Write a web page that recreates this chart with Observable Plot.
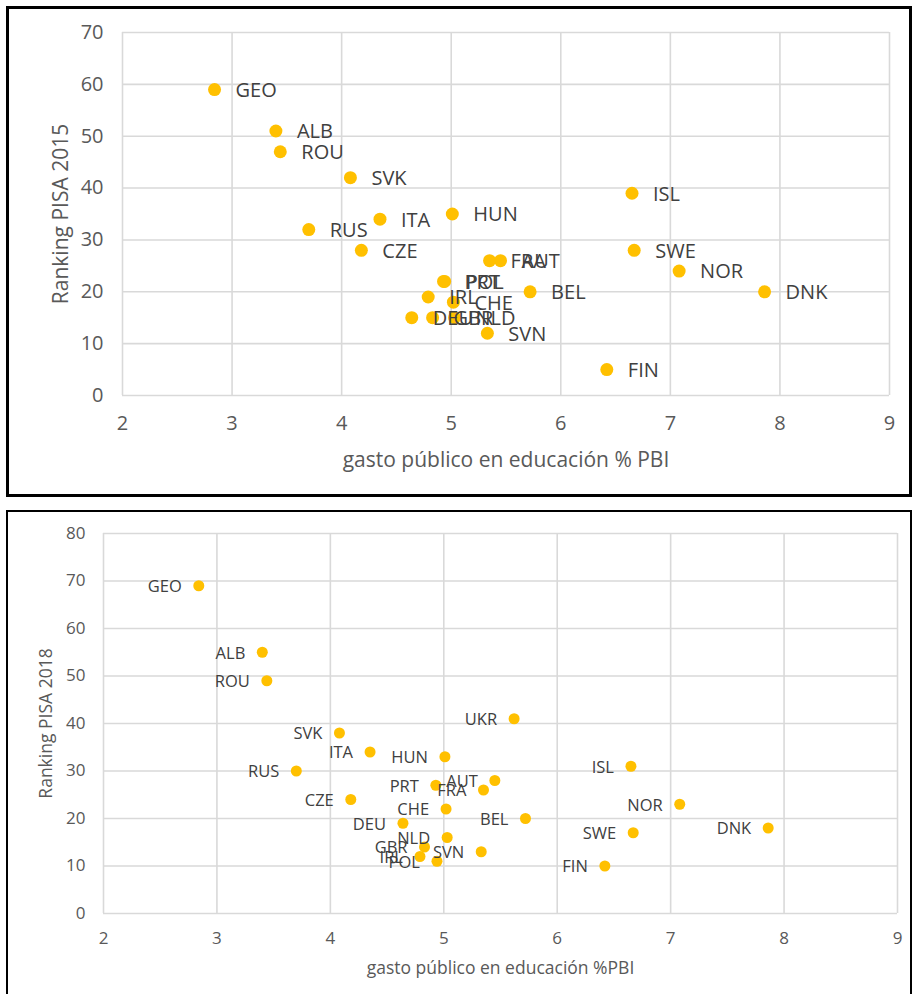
<!DOCTYPE html>
<html><head><meta charset="utf-8">
<script src="https://cdn.jsdelivr.net/npm/d3@7"></script>
<script src="https://cdn.jsdelivr.net/npm/@observablehq/plot@0.6"></script>
<style>
body{margin:0;background:#fff;width:913px;height:994px;overflow:hidden;position:relative;font-family:"Open Sans",sans-serif;}
.box{position:absolute;box-sizing:border-box;border:3px solid #000;background:#fff;}
#b1{left:6px;top:6px;width:906px;height:491px;}
#b2{left:6px;top:510px;width:906px;height:500px;border-width:2px;}
svg{display:block}
</style></head><body>
<div id="b1" class="box"></div><div id="b2" class="box"></div>
<script>
const countries = ["GEO","ALB","ROU","UKR","SVK","ITA","HUN","RUS","CZE","ISL","SWE","NOR","DNK","FIN","FRA","AUT","PRT","POL","IRL","CHE","BEL","DEU","GBR","NLD","SVN"];
const spending  = [2.84,3.40,3.44,5.62,4.08,4.35,5.01,3.70,4.18,6.65,6.67,7.08,7.86,6.42,5.35,5.45,4.93,4.94,4.79,5.02,5.72,4.64,4.83,5.03,5.33];
const rank2015  = [59,51,47,null,42,34,35,32,28,39,28,24,20,5,26,26,22,22,19,18,20,15,15,15,12];
const rank2018  = [69,55,49,41,38,34,33,30,24,31,17,23,18,10,26,28,27,11,12,22,20,19,14,16,13];
const xTicks = [2,3,4,5,6,7,8,9];
const yTicks2015 = [0,10,20,30,40,50,60,70];
const yTicks2018 = [0,10,20,30,40,50,60,70,80];
const xTitle2015 = "gasto público en educación % PBI";
const xTitle2018 = "gasto público en educación %PBI";
const yTitle2015 = "Ranking PISA 2015";
const yTitle2018 = "Ranking PISA 2018";

function chart(o) {
  const data = countries.map((c, i) => ({c, x: spending[i], y: o.ys[i]})).filter(d => d.y != null);
  return Plot.plot({
    width: o.width, height: o.height,
    marginLeft: o.m[0], marginRight: o.m[1], marginTop: o.m[2], marginBottom: o.m[3],
    x: {domain: [2, 9], label: null},
    y: {domain: [0, o.yTicks[o.yTicks.length - 1]], label: null},
    style: {fontFamily: "'Open Sans', sans-serif", color: "#595959", background: "transparent", overflow: "visible"},
    marks: [
      Plot.gridX(xTicks, {stroke: "#d9d9d9", strokeOpacity: 1, strokeWidth: 1.6}),
      Plot.gridY(o.yTicks, {stroke: "#d9d9d9", strokeOpacity: 1, strokeWidth: 1.6}),
      Plot.axisX(xTicks, {tickSize: 0, tickPadding: o.padX, fontSize: o.tfs, label: null, tickFormat: d => String(d)}),
      Plot.axisY(o.yTicks, {tickSize: 0, tickPadding: o.padY, fontSize: o.tfs, label: null, tickFormat: d => String(d)}),
      Plot.dot(data, {x: "x", y: "y", r: o.r, fill: "#FFC000"}),
      Plot.text(data, {x: "x", y: "y", text: "c", dx: o.dx, dy: 1, textAnchor: o.anchor, fontSize: o.fs, fill: "#404040"}),
      Plot.text([o.xTitle], {text: d => d, frameAnchor: "bottom", lineAnchor: "middle", textAnchor: "middle", dy: o.xTitleDy, fontSize: o.ttfs, fill: "#595959"}),
      Plot.text([o.yTitle], {text: d => d, frameAnchor: "left", lineAnchor: "middle", textAnchor: "middle", rotate: -90, dx: o.yTitleDx, fontSize: o.ttfs, fill: "#595959"})
    ]
  });
}

document.getElementById("b1").appendChild(chart({
  ys: rank2015, yTicks: yTicks2015, width: 900, height: 485, m: [113, 20, 23, 99],
  padX: 20, padY: 19, tfs: 20, fs: 20, ttfs: 21, r: 6.5, dx: 21, anchor: "start",
  xTitle: xTitle2015, yTitle: yTitle2015, xTitleDy: 65, yTitleDx: -61
}));
document.getElementById("b2").appendChild(chart({
  ys: rank2018, yTicks: yTicks2018, width: 902, height: 480, m: [95, 13, 21, 79],
  padX: 18, padY: 18, tfs: 17, fs: 16.5, ttfs: 17.5, r: 5.5, dx: -17, anchor: "end",
  xTitle: xTitle2018, yTitle: yTitle2018, xTitleDy: 55, yTitleDx: -57
}));
</script>
</body></html>
